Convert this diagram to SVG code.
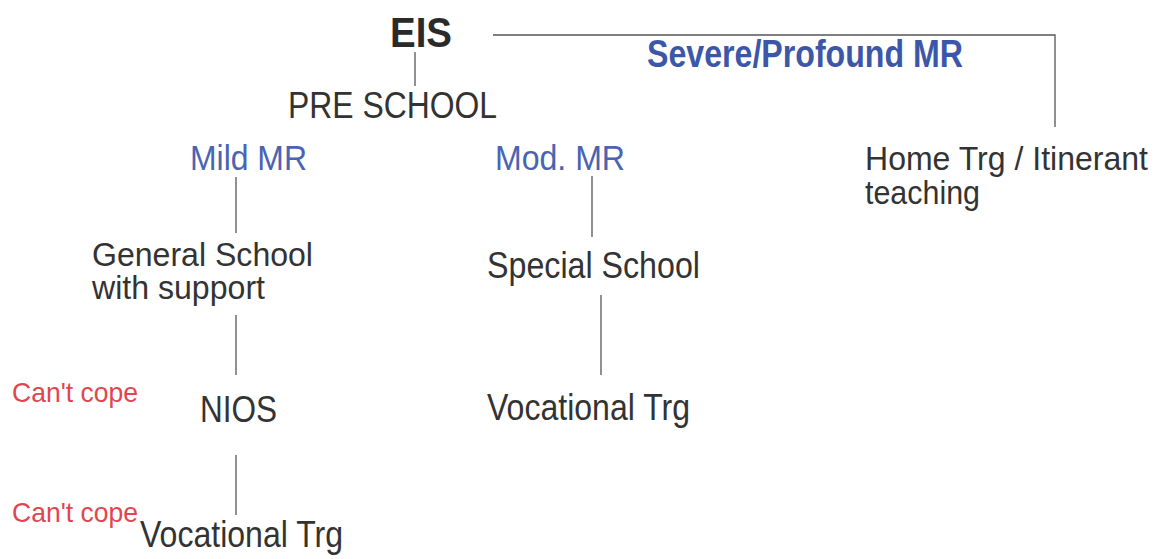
<svg xmlns="http://www.w3.org/2000/svg" width="1157" height="559" viewBox="0 0 1157 559">
<style>
text{font-family:"Liberation Sans",Arial,sans-serif;}
.t{font-size:37px;fill:#333;}
.t2{font-size:34px;fill:#333;}
.b{font-size:35px;fill:#4a64b2;}
.bb{font-size:38px;fill:#3d57a8;font-weight:bold;}
.r{font-size:28px;fill:#e0464f;}
.h{font-size:42px;fill:#2a2a2a;font-weight:bold;}
.c line,.c polyline{stroke:#555;stroke-width:1.3;fill:none;}
</style>
<rect width="1157" height="559" fill="#fff"/>
<g class="c" id="connectors">
<line x1="415" y1="52" x2="415" y2="86"/>
<polyline points="493,35 1055,35 1055,127"/>
<line x1="236" y1="177" x2="236" y2="233"/>
<line x1="236" y1="315" x2="236" y2="375"/>
<line x1="236" y1="455" x2="236" y2="515"/>
<line x1="592" y1="176" x2="592" y2="237"/>
<line x1="601" y1="295" x2="601" y2="375"/>
</g>
<g id="eis"><text class="h" x="390" y="47" textLength="62" lengthAdjust="spacingAndGlyphs">EIS</text></g>
<g id="preschool"><text class="t" x="288" y="118" textLength="209" lengthAdjust="spacingAndGlyphs">PRE SCHOOL</text></g>
<g id="severe"><text class="bb" x="647" y="67" textLength="316" lengthAdjust="spacingAndGlyphs">Severe/Profound MR</text></g>
<g id="mild"><text class="b" x="190" y="170" textLength="117" lengthAdjust="spacingAndGlyphs">Mild MR</text></g>
<g id="mod"><text class="b" x="495" y="170" textLength="130" lengthAdjust="spacingAndGlyphs">Mod. MR</text></g>
<g id="home"><text class="t2" x="865" y="170" textLength="283" lengthAdjust="spacingAndGlyphs">Home Trg / Itinerant</text><text class="t2" x="865" y="204" textLength="115" lengthAdjust="spacingAndGlyphs">teaching</text></g>
<g id="general"><text class="t2" x="92" y="266" textLength="221" lengthAdjust="spacingAndGlyphs">General School</text><text class="t2" x="92" y="299" textLength="173" lengthAdjust="spacingAndGlyphs">with support</text></g>
<g id="special"><text class="t" x="487" y="278" textLength="213" lengthAdjust="spacingAndGlyphs">Special School</text></g>
<g id="cantcope1"><text class="r" x="12" y="402" textLength="126" lengthAdjust="spacingAndGlyphs">Can't cope</text></g>
<g id="nios"><text class="t" x="200" y="422" textLength="77" lengthAdjust="spacingAndGlyphs">NIOS</text></g>
<g id="voc2"><text class="t" x="487" y="420" textLength="203" lengthAdjust="spacingAndGlyphs">Vocational Trg</text></g>
<g id="cantcope2"><text class="r" x="12" y="522" textLength="126" lengthAdjust="spacingAndGlyphs">Can't cope</text></g>
<g id="voc1"><text class="t" x="140" y="547" textLength="203" lengthAdjust="spacingAndGlyphs">Vocational Trg</text></g>
</svg>
